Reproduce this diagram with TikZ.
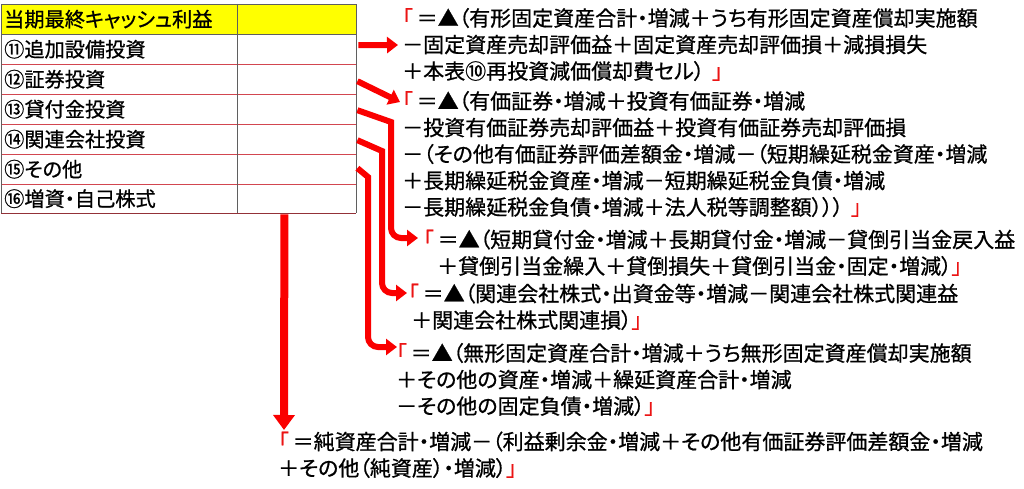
\documentclass[tikz,border=0pt]{standalone}
\usepackage{fontspec}
\newfontfamily\jp{Noto Sans CJK JP}[RawFeature={+palt},FakeBold=0.8]
\usetikzlibrary{arrows.meta}
\definecolor{arrred}{RGB}{250,0,0}
\definecolor{brk}{RGB}{235,20,20}
\definecolor{rowline}{RGB}{210,70,80}
\definecolor{tgray}{RGB}{95,95,95}
\definecolor{hdr}{RGB}{255,255,0}
\newcommand{\lbk}{\textcolor{brk}{「}}
\newcommand{\rbk}{\textcolor{brk}{」}}
\begin{document}
\begin{tikzpicture}[x=1pt,y=-1pt,
  cell/.style={minimum width=355pt, minimum height=30pt, text width=349pt, inner xsep=3pt, inner ysep=0pt,
    align=left, anchor=north west, font=\jp\fontsize{20.2}{24}\selectfont},
  block/.style={font=\jp\fontsize{21}{26.5}\selectfont, align=left, anchor=base west, inner sep=0pt},
  conn/.style={draw=arrred, line width=6pt, -{Triangle[length=11pt,width=16pt]}},
  bigconn/.style={draw=arrred, line width=8pt, -{Triangle[length=15pt,width=21pt]}},
  grid/.style={draw=tgray, line width=0.9pt},
  rline/.style={draw=rowline, line width=0.8pt},
]
\useasboundingbox (0,0) rectangle (1024,489);
% table
\fill[hdr] (1,4) rectangle (356,34);
\node[cell] (r0) at (1,4) {当期最終キャッシュ利益};
\node[cell] (r11) at (1,34) {⑪追加設備投資};
\node[cell] (r12) at (1,64) {⑫証券投資};
\node[cell] (r13) at (1,94) {⑬貸付金投資};
\node[cell] (r14) at (1,124) {⑭関連会社投資};
\node[cell] (r15) at (1,154) {⑮その他};
\node[cell, minimum height=29pt] (r16) at (1,184) {⑯増資・自己株式};
\foreach \yy in {64,94,124,154,184} \draw[rline] (1,\yy) -- (356,\yy);
\draw[draw=rowline!70!black, line width=0.9pt] (1,213) -- (356,213);
\draw[grid] (1,4) rectangle (356,34);
\draw[grid] (1,34) -- (1,213);
\draw[grid] (356,34) -- (356,213);
\draw[grid] (237,4) -- (237,213);
% text blocks (anchored at the baseline of their last line)
\node[block] (b1) at (402,79) {\lbk\hspace{4pt}＝▲（有形固定資産合計・増減＋うち有形固定資産償却実施額\\
－固定資産売却評価益＋固定資産売却評価損＋減損損失\\
＋本表⑩再投資減価償却費セル）\hspace{8pt}\rbk};
\node[block] (b2) at (402,215) {\lbk\hspace{4pt}＝▲（有価証券・増減＋投資有価証券・増減\\
－投資有価証券売却評価益＋投資有価証券売却評価損\\
－（その他有価証券評価差額金・増減－（短期繰延税金資産・増減\\
＋長期繰延税金資産・増減－短期繰延税金負債・増減\\
－長期繰延税金負債・増減＋法人税等調整額）））\hspace{8pt}\rbk};
\node[block] (b3) at (423,274) {\lbk\hspace{4pt}＝▲（短期貸付金・増減＋長期貸付金・増減－貸倒引当金戻入益\\
\hspace{14pt}＋貸倒引当金繰入＋貸倒損失＋貸倒引当金・固定・増減）\rbk};
\node[block] (b4) at (408,328) {\lbk\hspace{4pt}＝▲（関連会社株式・出資金等・増減－関連会社株式関連益\\
\hspace{3pt}＋関連会社株式関連損）\rbk};
\node[block] (b5) at (396,414) {\lbk\hspace{4pt}＝▲（無形固定資産合計・増減＋うち無形固定資産償却実施額\\
＋その他の資産・増減＋繰延資産合計・増減\\
－その他の固定負債・増減）\rbk};
\node[block] (b6) at (278,476) {\lbk\hspace{4pt}＝純資産合計・増減－（利益剰余金・増減＋その他有価証券評価差額金・増減\\
＋その他（純資産）・増減）\rbk};
% connector end points
\coordinate (k11) at (398,45);
\coordinate (k12) at (400,102);
\coordinate (k13) at (418,238);
\coordinate (k14) at (407,293);
\coordinate (k15) at (397,347);
\coordinate (k16) at (284,430);
% connectors
\draw[conn] ([xshift=2pt,yshift=4pt]r11.east) -- (k11);
\draw[conn] ([xshift=1pt,yshift=-2pt]r12.east) -- (k12);
\draw[conn] ([xshift=1pt,yshift=-1pt]r13.east) -- (391,122) [rounded corners=10pt] -- (391,238) -- (k13);
\draw[conn] ([xshift=1pt,yshift=-1pt]r14.east) -- (382,151) [rounded corners=10pt] -- (382,293) -- (k14);
\draw[conn] ([xshift=1pt,yshift=1pt]r15.east) -- (368,177) [rounded corners=10pt] -- (368,347) -- (k15);
\draw[bigconn] ([xshift=-72pt,yshift=-1pt]r16.south east) -- (k16);
\end{tikzpicture}
\end{document}
